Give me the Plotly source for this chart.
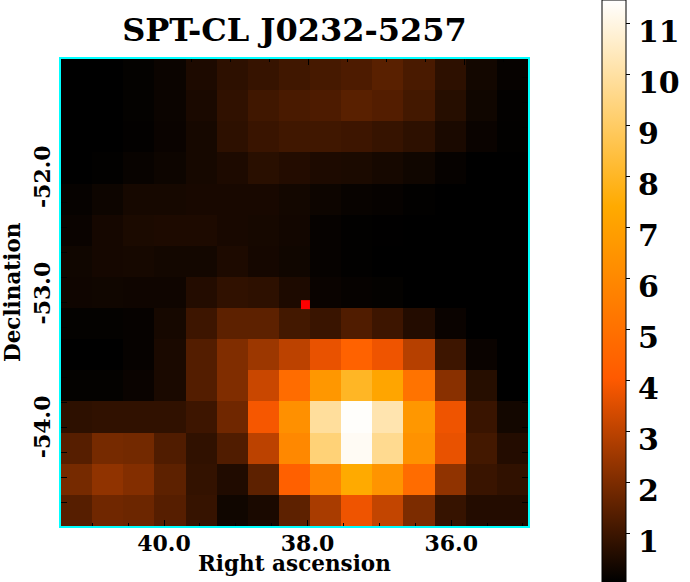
import plotly.graph_objects as go

title = 'SPT-CL J0232-5257'
serif = 'DejaVu Serif'

# sky map values, top row first, left column first
row00 = [0.00, 0.00, 0.12, 0.22, 0.50, 0.75, 0.90, 1.05, 1.15, 1.25, 1.45, 1.20, 0.75, 0.35, 0.15]
row01 = [0.00, 0.00, 0.12, 0.22, 0.45, 0.80, 1.05, 1.20, 1.25, 1.45, 1.35, 1.10, 0.65, 0.30, 0.10]
row02 = [0.00, 0.05, 0.10, 0.20, 0.40, 0.75, 0.95, 1.05, 1.05, 1.00, 0.90, 0.75, 0.45, 0.20, 0.08]
row03 = [0.03, 0.08, 0.18, 0.25, 0.40, 0.50, 0.70, 0.60, 0.50, 0.48, 0.40, 0.30, 0.15, 0.03, 0.02]
row04 = [0.15, 0.25, 0.40, 0.40, 0.42, 0.42, 0.42, 0.35, 0.25, 0.17, 0.15, 0.08, 0.05, 0.00, 0.00]
row05 = [0.20, 0.38, 0.48, 0.50, 0.50, 0.42, 0.40, 0.33, 0.15, 0.08, 0.06, 0.03, 0.02, 0.00, 0.00]
row06 = [0.30, 0.38, 0.40, 0.35, 0.35, 0.50, 0.38, 0.30, 0.15, 0.08, 0.05, 0.00, 0.00, 0.00, 0.00]
row07 = [0.28, 0.30, 0.28, 0.28, 0.60, 0.80, 0.75, 0.50, 0.20, 0.15, 0.12, 0.02, 0.00, 0.00, 0.00]
row08 = [0.12, 0.12, 0.15, 0.40, 1.00, 1.50, 1.50, 1.10, 0.95, 1.30, 1.00, 0.60, 0.20, 0.03, 0.00]
row09 = [0.05, 0.05, 0.15, 0.45, 1.35, 2.05, 2.50, 3.00, 3.70, 4.40, 3.80, 2.90, 1.00, 0.20, 0.00]
row10 = [0.12, 0.12, 0.20, 0.45, 1.35, 2.05, 3.20, 4.80, 6.60, 8.00, 7.20, 5.10, 2.20, 0.65, 0.05]
row11 = [0.75, 0.80, 0.80, 0.80, 1.00, 1.80, 3.90, 6.30, 9.90, 11.40, 10.20, 6.60, 3.80, 0.95, 0.35]
row12 = [1.40, 1.90, 1.85, 1.30, 0.80, 1.30, 3.00, 6.00, 9.30, 11.30, 9.70, 6.40, 3.70, 1.10, 0.60]
row13 = [1.90, 2.30, 2.10, 1.50, 0.85, 0.55, 1.50, 4.30, 5.80, 7.40, 6.50, 4.80, 2.30, 0.95, 0.80]
row14 = [1.40, 1.80, 1.75, 1.40, 0.90, 0.30, 0.45, 1.50, 2.70, 3.80, 3.10, 2.00, 0.90, 0.60, 0.60]
z = [row00, row01, row02, row03, row04, row05, row06, row07, row08, row09,
     row10, row11, row12, row13, row14]

# cluster position
center_ra = [38.03]
center_dec = [-53.02]

ra_range = [41.435, 34.93]
dec_range = [-54.79, -51.056]
top_range = [41.18, 35.19]
zmin = 0.05
zmax = 11.47

ra_major = [40, 38, 36]
ra_labels = ['40.0', '38.0', '36.0']
ra_minor = [41, 40.5, 39.5, 39, 38.5, 37.5, 37, 36.5, 35.5, 35]
top_major = [38, 36]
top_minor = [39.5, 39, 38.5, 37.5, 37, 36.5, 35.5]
dec_major = [-52, -53, -54]
dec_labels = ['-52.0', '-53.0', '-54.0']
dec_label_pos = [-52.0, -52.93, -54.0]
dec_minor = [-51.2, -51.4, -51.6, -51.8, -52.2, -52.4, -52.6, -52.8, -53.2, -53.4, -53.6, -53.8, -54.2, -54.4, -54.6]
cbar_ticks = [1, 2, 3, 4, 5, 6, 7, 8, 9, 10, 11]

heat = [[0, 'rgb(0,0,0)'], [0.35, 'rgb(255,90,0)'], [0.645, 'rgb(255,170,0)'], [1, 'rgb(255,255,255)']]

nx = len(z[0])
ny = len(z)
dx = (ra_range[1] - ra_range[0]) / nx
dy = (dec_range[1] - dec_range[0]) / ny

fig = go.Figure()
fig.add_trace(go.Heatmap(z=z, x0=ra_range[0] + dx / 2, dx=dx, y0=dec_range[1] - dy / 2, dy=-dy,
                         colorscale=heat, zmin=zmin, zmax=zmax, hoverinfo='skip',
                         colorbar=dict(x=602 / 690, xanchor='left', y=0.5, yanchor='middle', len=1, ypad=0, xpad=0,
                                       thickness=24, outlinecolor='black', outlinewidth=1,
                                       tickvals=cbar_ticks, ticks='outside', ticklen=4, tickcolor='black',
                                       showticklabels=False)))
fig.add_trace(go.Scatter(x=center_ra, y=center_dec, mode='markers', hoverinfo='skip',
                         marker=dict(symbol='square', size=9, color='red')))
fig.add_trace(go.Scatter(x=top_major, y=[None, None], xaxis='x2', mode='markers', hoverinfo='skip'))

fig.update_layout(
    width=690, height=582, showlegend=False, paper_bgcolor='white', plot_bgcolor='black',
    margin=dict(l=0, r=0, t=0, b=0),
    font=dict(family=serif, color='black', weight=700),
    title=dict(text=title, x=294.5 / 690, xanchor='center', y=1 - 30 / 582, yanchor='middle',
               font=dict(family=serif, size=32, color='black', weight=700)),
    xaxis=dict(domain=[61 / 690, 528 / 690], range=ra_range, tickmode='array', tickvals=ra_major, ticktext=ra_labels,
               ticks='inside', ticklen=6, tickcolor='black', tickwidth=1, showgrid=False, zeroline=False,
               showline=True, linecolor='#00ffff', linewidth=2, tickangle=0, mirror=True, ticklabelstandoff=-3,
               tickfont=dict(size=22, family=serif, weight=700),
               minor=dict(tickmode='array', tickvals=ra_minor, ticks='inside', ticklen=3, tickcolor='black', showgrid=False)),
    xaxis2=dict(overlaying='x', side='top', anchor='y', range=top_range, tickmode='array', tickvals=top_major, showticklabels=False,
                ticks='inside', ticklen=6, tickcolor='black', showgrid=False, zeroline=False,
                minor=dict(tickmode='array', tickvals=top_minor, ticks='inside', ticklen=3, tickcolor='black', showgrid=False)),
    yaxis=dict(domain=[1 - 526 / 582, 1 - 59 / 582], range=dec_range, tickmode='array', tickvals=dec_major, showticklabels=False,
               ticks='inside', ticklen=6, tickcolor='black', tickwidth=1, showgrid=False, zeroline=False,
               showline=True, linecolor='#00ffff', linewidth=2, mirror='allticks',
               minor=dict(tickmode='array', tickvals=dec_minor, ticks='inside', ticklen=3, tickcolor='black', showgrid=False)),
)

# declination labels are not centred on their ticks in the original
for pos, lab in zip(dec_label_pos, dec_labels):
    fig.add_annotation(x=42 / 690, y=pos, xref='paper', yref='y', text=lab, textangle=-90, showarrow=False,
                       xanchor='center', yanchor='middle', font=dict(family=serif, size=22, color='black', weight=700))

fig.add_annotation(x=294 / 690, y=1 - 563 / 582, xref='paper', yref='paper', text='Right ascension', showarrow=False,
                   xanchor='center', yanchor='middle', font=dict(family=serif, size=21.5, color='black', weight=700))
fig.add_annotation(x=12 / 690, y=1 - 292 / 582, xref='paper', yref='paper', text='Declination', textangle=-90, showarrow=False,
                   xanchor='center', yanchor='middle', font=dict(family=serif, size=21.5, color='black', weight=700))

# colour bar labels sit a little below their ticks
for v in cbar_ticks:
    fig.add_annotation(x=636 / 690, y=(v - zmin) / (zmax - zmin), xref='paper', yref='paper', text=str(v),
                       xanchor='left', yanchor='middle', yshift=-8, showarrow=False,
                       font=dict(family=serif, size=30, color='black', weight=700))

fig.write_html("out.html", post_script="document.body.style.margin = '0';", config=dict(displayModeBar=False))
